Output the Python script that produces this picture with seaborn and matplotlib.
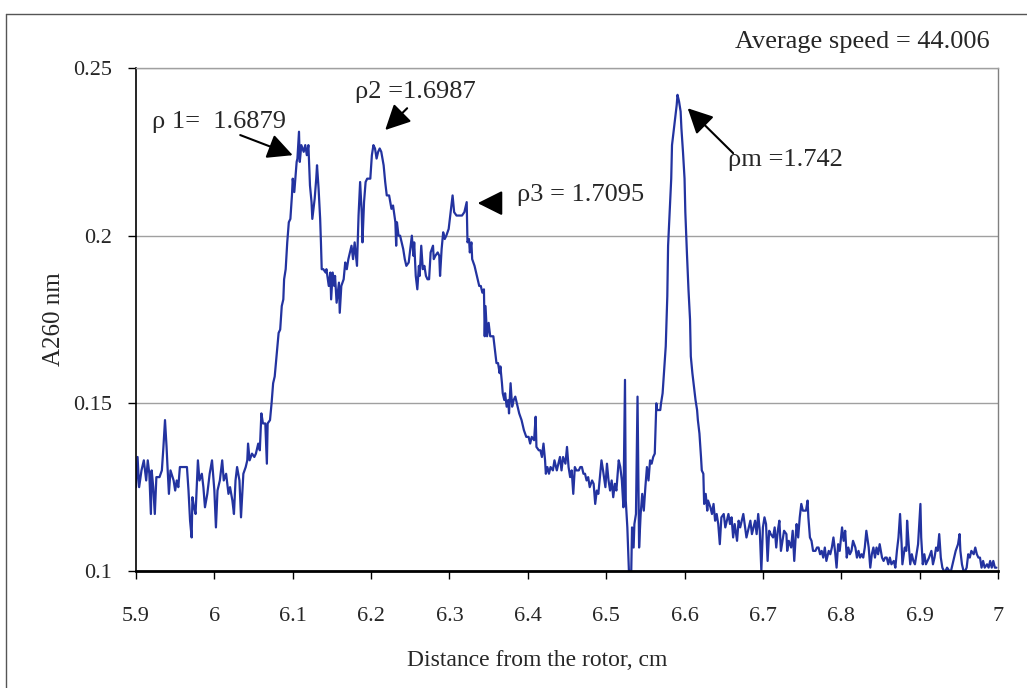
import numpy as np
import pandas as pd
import matplotlib
matplotlib.use("Agg")
import matplotlib.pyplot as plt
from matplotlib.lines import Line2D
import seaborn as sns

# ---------------- data ----------------
x_seg1 = [5.900, 5.902, 5.904, 5.907, 5.910, 5.913, 5.915, 5.917, 5.919, 5.920,
          5.922, 5.924, 5.926, 5.930, 5.933, 5.935, 5.937, 5.939, 5.940, 5.942,
          5.944, 5.948, 5.950, 5.952, 5.954, 5.956, 5.960, 5.965, 5.967, 5.969,
          5.971, 5.972, 5.974, 5.976, 5.979, 5.981, 5.984, 5.986, 5.988, 5.991,
          5.994, 5.997, 6.000, 6.002, 6.004, 6.007, 6.010, 6.012, 6.015, 6.018,
          6.020, 6.023, 6.025, 6.027, 6.029, 6.032, 6.034, 6.037, 6.040, 6.042,
          6.043, 6.045, 6.048, 6.051, 6.053, 6.056, 6.058, 6.060, 6.062, 6.065,
          6.067, 6.068]
y_seg1 = [0.125, 0.134, 0.125, 0.130, 0.133, 0.127, 0.133, 0.129, 0.117, 0.130,
          0.125, 0.117, 0.128, 0.128, 0.130, 0.137, 0.145, 0.137, 0.132, 0.123,
          0.130, 0.127, 0.124, 0.127, 0.125, 0.131, 0.131, 0.131, 0.124, 0.115,
          0.110, 0.122, 0.119, 0.117, 0.133, 0.127, 0.129, 0.125, 0.119, 0.123,
          0.129, 0.133, 0.124, 0.113, 0.124, 0.127, 0.133, 0.127, 0.129, 0.123,
          0.125, 0.121, 0.117, 0.127, 0.131, 0.127, 0.116, 0.129, 0.131, 0.133,
          0.138, 0.133, 0.135, 0.134, 0.135, 0.138, 0.136, 0.147, 0.144, 0.144,
          0.132, 0.144]

x_seg2 = [6.071, 6.073, 6.075, 6.077, 6.080, 6.082, 6.084, 6.086, 6.088, 6.089,
          6.091, 6.093, 6.095, 6.097, 6.099, 6.100, 6.102, 6.103, 6.105, 6.106,
          6.108, 6.109, 6.111, 6.114, 6.116, 6.118, 6.120, 6.122, 6.124, 6.125,
          6.128, 6.130, 6.131, 6.133, 6.135, 6.136, 6.137, 6.139, 6.142, 6.143,
          6.146, 6.148, 6.149, 6.151, 6.153, 6.154, 6.156, 6.159, 6.160, 6.162,
          6.165, 6.167, 6.169, 6.171, 6.173, 6.175, 6.177, 6.179, 6.182, 6.184,
          6.186, 6.188, 6.189, 6.191, 6.193, 6.195, 6.199, 6.201, 6.203, 6.205,
          6.207, 6.209, 6.211, 6.213, 6.216, 6.218, 6.220, 6.223, 6.226, 6.228,
          6.231, 6.232, 6.233, 6.235, 6.237, 6.239, 6.241, 6.243, 6.245, 6.248,
          6.250, 6.252, 6.254, 6.255, 6.257, 6.259, 6.261, 6.262, 6.264, 6.266,
          6.268, 6.270, 6.272, 6.274, 6.276, 6.279, 6.280, 6.282, 6.285, 6.287,
          6.288, 6.290, 6.292, 6.294, 6.296, 6.299, 6.301, 6.302, 6.304, 6.306,
          6.309, 6.313]
y_seg2 = [0.145, 0.150, 0.156, 0.158, 0.166, 0.171, 0.172, 0.179, 0.181, 0.187,
          0.190, 0.198, 0.204, 0.205, 0.212, 0.217, 0.213, 0.216, 0.222, 0.223,
          0.231, 0.222, 0.227, 0.225, 0.227, 0.224, 0.227, 0.215, 0.210, 0.205,
          0.211, 0.217, 0.221, 0.214, 0.205, 0.198, 0.190, 0.190, 0.189, 0.190,
          0.185, 0.189, 0.181, 0.189, 0.185, 0.188, 0.180, 0.186, 0.177, 0.185,
          0.187, 0.192, 0.190, 0.193, 0.195, 0.197, 0.193, 0.198, 0.191, 0.206,
          0.216, 0.207, 0.198, 0.210, 0.216, 0.217, 0.217, 0.224, 0.227, 0.226,
          0.223, 0.225, 0.226, 0.225, 0.221, 0.216, 0.212, 0.212, 0.208, 0.209,
          0.204, 0.197, 0.204, 0.200, 0.200, 0.198, 0.196, 0.193, 0.191, 0.192,
          0.196, 0.200, 0.194, 0.198, 0.188, 0.184, 0.191, 0.188, 0.197, 0.190,
          0.191, 0.188, 0.187, 0.187, 0.195, 0.197, 0.193, 0.194, 0.195, 0.194,
          0.188, 0.196, 0.201, 0.199, 0.200, 0.202, 0.206, 0.208, 0.212, 0.207,
          0.206, 0.206]

x_seg3 = [6.316, 6.319, 6.322, 6.323, 6.325, 6.326, 6.328, 6.329, 6.332, 6.334,
          6.336, 6.338, 6.340, 6.342, 6.344, 6.345, 6.346, 6.348, 6.350, 6.352,
          6.354, 6.356, 6.358, 6.360, 6.362, 6.364, 6.365, 6.367, 6.368, 6.370,
          6.371, 6.373, 6.375, 6.376, 6.378, 6.380, 6.382, 6.384, 6.387, 6.389,
          6.392, 6.395, 6.398, 6.401, 6.403, 6.405, 6.408, 6.410, 6.411, 6.414,
          6.416, 6.418, 6.420, 6.422, 6.423, 6.425, 6.427, 6.429, 6.432, 6.434,
          6.437, 6.439, 6.441, 6.443, 6.445, 6.448, 6.450, 6.452, 6.454, 6.456,
          6.458, 6.460, 6.462, 6.465, 6.467, 6.469, 6.471, 6.473, 6.475, 6.477,
          6.479, 6.482, 6.484, 6.486, 6.488, 6.490, 6.492, 6.494, 6.496, 6.499,
          6.501, 6.503, 6.505, 6.507, 6.509, 6.511, 6.513, 6.516]
y_seg3 = [0.206, 0.207, 0.210, 0.198, 0.199, 0.195, 0.198, 0.193, 0.191, 0.189,
          0.187, 0.185, 0.185, 0.183, 0.184, 0.170, 0.179, 0.170, 0.174, 0.170,
          0.170, 0.170, 0.166, 0.162, 0.162, 0.159, 0.161, 0.156, 0.153, 0.151,
          0.153, 0.149, 0.151, 0.147, 0.156, 0.149, 0.151, 0.152, 0.149, 0.147,
          0.145, 0.142, 0.140, 0.140, 0.138, 0.140, 0.139, 0.146, 0.137, 0.136,
          0.136, 0.134, 0.138, 0.133, 0.129, 0.131, 0.129, 0.131, 0.130, 0.133,
          0.130, 0.132, 0.134, 0.130, 0.134, 0.132, 0.137, 0.131, 0.128, 0.130,
          0.123, 0.131, 0.130, 0.130, 0.131, 0.131, 0.129, 0.129, 0.127, 0.128,
          0.125, 0.127, 0.126, 0.120, 0.124, 0.123, 0.128, 0.133, 0.130, 0.125,
          0.132, 0.127, 0.124, 0.127, 0.122, 0.126, 0.124, 0.133]

x_seg4 = [6.518, 6.520, 6.522, 6.524, 6.525, 6.527, 6.529, 6.530, 6.532, 6.533,
          6.535, 6.536, 6.538, 6.540, 6.541, 6.542, 6.544, 6.546, 6.548, 6.550,
          6.552, 6.554, 6.556, 6.558, 6.560, 6.562, 6.564, 6.565, 6.567, 6.569,
          6.570, 6.572, 6.574, 6.576, 6.578, 6.579, 6.581, 6.583, 6.584, 6.586,
          6.588, 6.590, 6.591, 6.593, 6.595, 6.596, 6.598, 6.600, 6.601, 6.603,
          6.605, 6.607, 6.608, 6.610, 6.612, 6.614, 6.616, 6.617, 6.619, 6.621,
          6.622, 6.624, 6.625, 6.627, 6.629, 6.630, 6.633, 6.635, 6.637, 6.639,
          6.641, 6.643, 6.645, 6.647, 6.650, 6.652, 6.654, 6.656, 6.658, 6.660,
          6.662, 6.664, 6.667, 6.669, 6.671, 6.675, 6.679]
y_seg4 = [0.131, 0.127, 0.119, 0.157, 0.121, 0.113, 0.100, 0.100, 0.100, 0.113,
          0.107, 0.114, 0.117, 0.152, 0.129, 0.107, 0.117, 0.123, 0.118, 0.125,
          0.131, 0.127, 0.133, 0.132, 0.134, 0.135, 0.150, 0.148, 0.148, 0.148,
          0.150, 0.153, 0.160, 0.167, 0.182, 0.197, 0.207, 0.217, 0.227, 0.231,
          0.235, 0.239, 0.242, 0.240, 0.237, 0.232, 0.225, 0.217, 0.207, 0.195,
          0.184, 0.175, 0.164, 0.159, 0.155, 0.151, 0.148, 0.145, 0.141, 0.134,
          0.130, 0.129, 0.120, 0.123, 0.118, 0.121, 0.119, 0.117, 0.120, 0.115,
          0.117, 0.114, 0.108, 0.116, 0.117, 0.113, 0.115, 0.117, 0.114, 0.116,
          0.110, 0.114, 0.109, 0.115, 0.113, 0.117, 0.110]

x_seg5 = [6.684, 6.686, 6.688, 6.690, 6.692, 6.694, 6.696, 6.698, 6.700, 6.702,
          6.704, 6.706, 6.708, 6.710, 6.713, 6.715, 6.717, 6.719, 6.721, 6.723,
          6.725, 6.727, 6.730, 6.731, 6.733, 6.736, 6.738, 6.740, 6.742, 6.743,
          6.745, 6.747, 6.749, 6.751, 6.753, 6.755, 6.757, 6.758, 6.760, 6.762,
          6.764, 6.767, 6.769, 6.771, 6.773, 6.775, 6.777, 6.779, 6.781, 6.784,
          6.786, 6.788, 6.790, 6.792, 6.794, 6.796, 6.798, 6.801, 6.803, 6.805,
          6.807, 6.809, 6.811, 6.813, 6.815, 6.818, 6.820, 6.822, 6.824, 6.826,
          6.828, 6.830, 6.832, 6.835, 6.837, 6.839, 6.841, 6.843, 6.845, 6.847,
          6.849, 6.852, 6.854, 6.856, 6.858, 6.860, 6.862, 6.864, 6.867, 6.869,
          6.871, 6.873, 6.875, 6.877, 6.878, 6.881, 6.883, 6.884, 6.886, 6.888,
          6.890, 6.892, 6.894, 6.896, 6.898, 6.901, 6.902, 6.904, 6.906, 6.908,
          6.910, 6.912, 6.915, 6.917, 6.919, 6.921, 6.923, 6.925, 6.927, 6.929,
          6.931, 6.933, 6.935, 6.938, 6.940, 6.942, 6.944, 6.946, 6.949, 6.951,
          6.952, 6.954, 6.956, 6.958, 6.960, 6.962, 6.964, 6.966, 6.969, 6.971,
          6.973, 6.975, 6.977, 6.979, 6.981, 6.983, 6.986, 6.988, 6.990, 6.992,
          6.994, 6.996, 6.998]
y_seg5 = [0.115, 0.111, 0.113, 0.115, 0.111, 0.117, 0.112, 0.100, 0.113, 0.116,
          0.114, 0.103, 0.112, 0.111, 0.110, 0.113, 0.107, 0.112, 0.115, 0.106,
          0.109, 0.112, 0.111, 0.106, 0.109, 0.107, 0.112, 0.103, 0.111, 0.114,
          0.110, 0.116, 0.120, 0.118, 0.118, 0.118, 0.121, 0.116, 0.110, 0.109,
          0.106, 0.106, 0.107, 0.107, 0.105, 0.106, 0.104, 0.107, 0.103, 0.106,
          0.105, 0.107, 0.110, 0.106, 0.101, 0.108, 0.106, 0.113, 0.109, 0.112,
          0.104, 0.107, 0.105, 0.106, 0.109, 0.107, 0.104, 0.106, 0.104, 0.105,
          0.104, 0.107, 0.112, 0.107, 0.101, 0.105, 0.107, 0.104, 0.107, 0.105,
          0.108, 0.104, 0.103, 0.104, 0.104, 0.102, 0.104, 0.102, 0.103, 0.101,
          0.106, 0.110, 0.117, 0.108, 0.102, 0.107, 0.106, 0.115, 0.108, 0.102,
          0.105, 0.103, 0.102, 0.105, 0.108, 0.120, 0.110, 0.102, 0.105, 0.102,
          0.103, 0.104, 0.106, 0.102, 0.104, 0.107, 0.106, 0.111, 0.104, 0.101,
          0.100, 0.100, 0.101, 0.100, 0.100, 0.102, 0.104, 0.106, 0.108, 0.111,
          0.106, 0.102, 0.100, 0.100, 0.101, 0.105, 0.104, 0.106, 0.105, 0.107,
          0.105, 0.104, 0.104, 0.101, 0.103, 0.101, 0.102, 0.101, 0.103, 0.101,
          0.103, 0.101, 0.101]

x_ticks = [5.9, 6.0, 6.1, 6.2, 6.3, 6.4, 6.5, 6.6, 6.7, 6.8, 6.9, 7.0]
x_tick_labels = ["5.9", "6", "6.1", "6.2", "6.3", "6.4", "6.5", "6.6", "6.7", "6.8", "6.9", "7"]
y_ticks = [0.1, 0.15, 0.2, 0.25]
y_tick_labels = ["0.1", "0.15", "0.2", "0.25"]

peak_labels = ["\u03c1 1=  1.6879", "\u03c12 =1.6987", "\u03c13 = 1.7095", "\u03c1m =1.742"]
peak_xy = [(6.100, 0.224), (6.218, 0.2315), (6.336, 0.2097), (6.604, 0.238)]
speed_label = "Average speed = 44.006"
x_label = "Distance from the rotor, cm"
y_label = "A260 nm"

# ---------------- assemble ----------------
df = pd.DataFrame({
    "x": x_seg1 + x_seg2 + x_seg3 + x_seg4 + x_seg5,
    "y": y_seg1 + y_seg2 + y_seg3 + y_seg4 + y_seg5,
})

sns.set_style("white")
plt.rcParams["font.family"] = ["Liberation Serif", "DejaVu Serif"]

W, H = 1027, 688
fig = plt.figure(figsize=(W / 100, H / 100), dpi=100)
L, R, T, B = 136, 998, 68, 571
ax = fig.add_axes([L / W, 1 - B / H, (R - L) / W, (B - T) / H])

sns.lineplot(data=df, x="x", y="y", ax=ax, color="#2333a0", linewidth=1.6,
             estimator=None, sort=False, legend=False)

ax.set_xlim(5.9, 7.0)
ax.set_ylim(0.1, 0.25)
ax.set_xticks(x_ticks)
ax.set_xticklabels(x_tick_labels)
ax.set_yticks(y_ticks)
ax.set_yticklabels(y_tick_labels)
ax.tick_params(axis="x", direction="out", length=6, width=1, color="black",
               labelsize=16, pad=20, bottom=True)
ax.tick_params(axis="y", direction="out", length=6, width=1, color="black",
               labelsize=16, pad=11, left=True)

ax.yaxis.grid(True, color="#a0a0a0", linewidth=1)
ax.xaxis.grid(False)
ax.set_axisbelow(True)

ax.spines["left"].set_color("black")
ax.spines["left"].set_linewidth(1.2)
ax.spines["bottom"].set_color("black")
ax.spines["bottom"].set_linewidth(2)
ax.spines["right"].set_color("#808080")
ax.spines["right"].set_linewidth(1)
ax.spines["top"].set_color("#a0a0a0")
ax.spines["top"].set_linewidth(1)

ax.set_xlabel("")
ax.set_ylabel(y_label, fontsize=18, labelpad=6)
fig.text(537 / W, 1 - 660 / H, x_label, fontsize=17, ha="center", va="center")

# annotations: arrows (no text attached) + separate labels
arrow = dict(arrowstyle="-|>,head_length=0.9,head_width=0.45", color="black",
             lw=1.5, shrinkA=0, shrinkB=0)
arrow_tails = [(6.033, 0.2300), (6.246, 0.238), (6.365, 0.2097), (6.662, 0.2246)]
label_pos = [(5.920, 0.2339), (6.179, 0.2428), (6.386, 0.2121), (6.655, 0.2225)]
for lab, tip, tail, pos in zip(peak_labels, peak_xy, arrow_tails, label_pos):
    ax.annotate("", xy=tip, xytext=tail, textcoords="data", fontsize=17,
                arrowprops=arrow, annotation_clip=False)
    ax.text(pos[0], pos[1], lab, fontsize=19, ha="left", va="center")

fig.text(990 / W, 1 - 42 / H, speed_label, fontsize=19, ha="right", va="center")

# outer frame of the chart area
fig.add_artist(Line2D([6 / W, 1.0], [1 - 14 / H, 1 - 14 / H], transform=fig.transFigure,
                      color="#555555", lw=1))
fig.add_artist(Line2D([6 / W, 6 / W], [0.0, 1 - 14 / H], transform=fig.transFigure,
                      color="#555555", lw=1))

fig.savefig("out.png", dpi=100)
